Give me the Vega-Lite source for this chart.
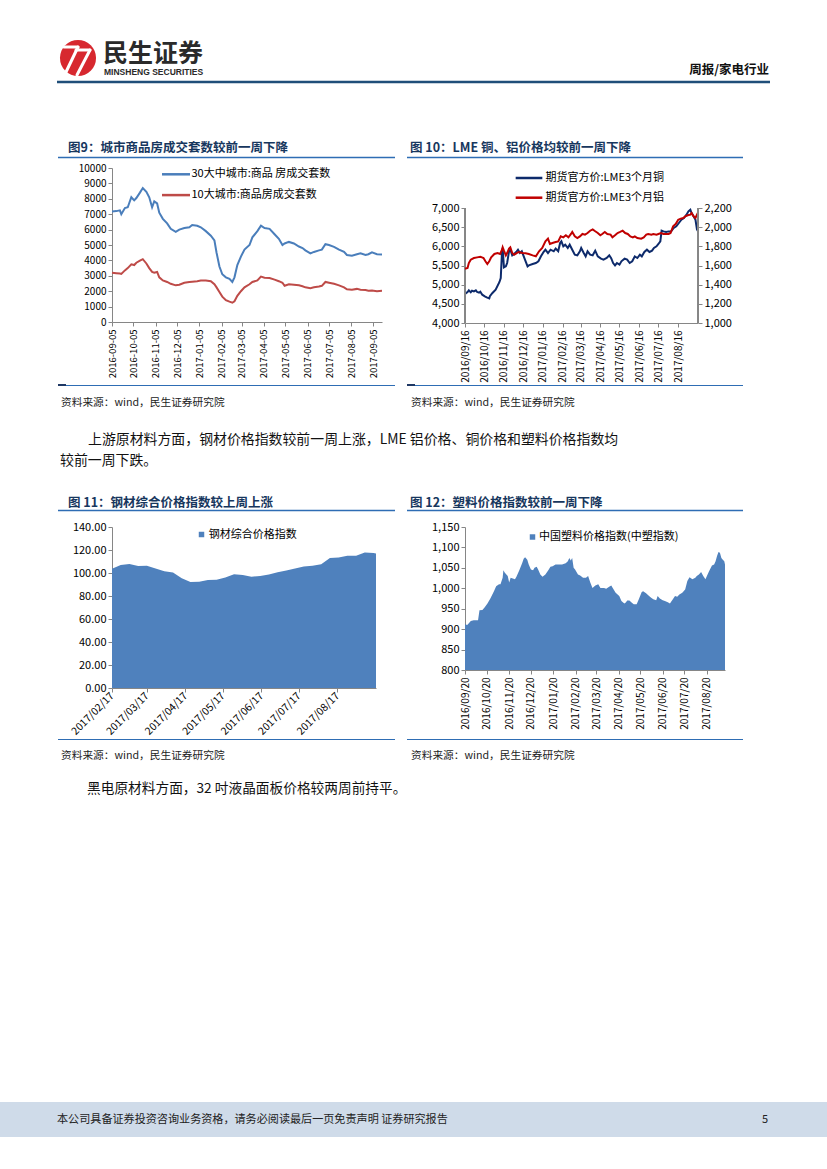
{
"$schema": "https://vega.github.io/schema/vega-lite/v6.json",
"padding": 0,
"background": "white",
"columns": 4,
"align": "each",
"bounds": "flush",
"spacing": {"row": 0, "column": 0},
"resolve": {"scale": {"color": "independent"}, "legend": {"color": "independent"}},
"config": {
  "view": {"stroke": null},
  "font": "Noto Sans CJK SC",
  "axis": {"grid": false, "title": null, "domainColor": "#868686", "tickColor": "#868686", "labelColor": "#000000", "labelFont": "Noto Sans CJK SC", "labelFontSize": 10, "tickSize": 4, "labelPadding": 2, "labelOverlap": false},
  "legend": {"labelFont": "Noto Sans CJK SC", "labelFontSize": 11, "labelColor": "#000000", "padding": 0},
  "text": {"font": "Noto Sans CJK SC"}
},
"datasets": {
  "h9": [
    {"d":"2016-09-05","a":7180,"b":3200},{"d":"2016-09-11","a":7200,"b":3170},{"d":"2016-09-16","a":7250,"b":3150},{"d":"2016-09-18","a":7000,"b":3120},
    {"d":"2016-09-23","a":7400,"b":3350},{"d":"2016-09-27","a":7450,"b":3500},{"d":"2016-10-02","a":8100,"b":3750},{"d":"2016-10-06","a":7900,"b":3700},
    {"d":"2016-10-09","a":8050,"b":3850},{"d":"2016-10-14","a":8400,"b":3980},{"d":"2016-10-18","a":8700,"b":4080},{"d":"2016-10-23","a":8450,"b":3800},
    {"d":"2016-10-27","a":8100,"b":3500},{"d":"2016-10-31","a":7450,"b":3250},{"d":"2016-11-03","a":7830,"b":3200},{"d":"2016-11-07","a":7700,"b":3250},
    {"d":"2016-11-10","a":7100,"b":2900},{"d":"2016-11-15","a":6700,"b":2700},{"d":"2016-11-21","a":6400,"b":2600},{"d":"2016-11-26","a":6050,"b":2480},
    {"d":"2016-12-03","a":5850,"b":2380},{"d":"2016-12-08","a":6000,"b":2420},{"d":"2016-12-15","a":6100,"b":2550},{"d":"2016-12-22","a":6150,"b":2600},
    {"d":"2016-12-26","a":6300,"b":2620},{"d":"2017-01-02","a":6250,"b":2650},{"d":"2017-01-07","a":6150,"b":2700},{"d":"2017-01-14","a":5900,"b":2700},
    {"d":"2017-01-21","a":5600,"b":2650},{"d":"2017-01-26","a":5300,"b":2450},{"d":"2017-01-29","a":4500,"b":2250},{"d":"2017-02-02","a":3600,"b":1950},
    {"d":"2017-02-06","a":3100,"b":1650},{"d":"2017-02-11","a":2900,"b":1420},{"d":"2017-02-16","a":2800,"b":1320},{"d":"2017-02-20","a":2600,"b":1250},
    {"d":"2017-02-23","a":2900,"b":1350},{"d":"2017-02-27","a":3700,"b":1700},{"d":"2017-03-04","a":4250,"b":2000},{"d":"2017-03-09","a":4700,"b":2250},
    {"d":"2017-03-16","a":5000,"b":2450},{"d":"2017-03-20","a":5500,"b":2600},{"d":"2017-03-27","a":5900,"b":2700},{"d":"2017-04-01","a":6250,"b":2950},
    {"d":"2017-04-06","a":6100,"b":2880},{"d":"2017-04-13","a":6050,"b":2850},{"d":"2017-04-20","a":5700,"b":2750},{"d":"2017-04-26","a":5400,"b":2650},
    {"d":"2017-05-01","a":5000,"b":2550},{"d":"2017-05-04","a":5100,"b":2350},{"d":"2017-05-10","a":5200,"b":2450},{"d":"2017-05-17","a":5100,"b":2420},
    {"d":"2017-05-24","a":4900,"b":2380},{"d":"2017-05-29","a":4800,"b":2320},{"d":"2017-06-02","a":4650,"b":2250},{"d":"2017-06-09","a":4450,"b":2200},
    {"d":"2017-06-14","a":4550,"b":2250},{"d":"2017-06-21","a":4650,"b":2300},{"d":"2017-06-25","a":4700,"b":2350},{"d":"2017-06-30","a":5050,"b":2600},
    {"d":"2017-07-05","a":5000,"b":2550},{"d":"2017-07-12","a":4880,"b":2480},{"d":"2017-07-19","a":4700,"b":2380},{"d":"2017-07-26","a":4550,"b":2250},
    {"d":"2017-07-30","a":4350,"b":2120},{"d":"2017-08-06","a":4300,"b":2100},{"d":"2017-08-13","a":4400,"b":2150},{"d":"2017-08-18","a":4460,"b":2100},
    {"d":"2017-08-25","a":4350,"b":2080},{"d":"2017-08-29","a":4400,"b":2030},{"d":"2017-09-03","a":4520,"b":2050},{"d":"2017-09-10","a":4400,"b":2000},
    {"d":"2017-09-17","a":4380,"b":2030}
  ],
  "cu": [
    {"d":"2016-09-16","v":4756},{"d":"2016-09-20","v":4809},{"d":"2016-09-22","v":4852},{"d":"2016-09-25","v":4800},{"d":"2016-09-27","v":4843},
    {"d":"2016-09-30","v":4826},{"d":"2016-10-03","v":4852},{"d":"2016-10-05","v":4809},{"d":"2016-10-08","v":4790},{"d":"2016-10-10","v":4817},
    {"d":"2016-10-13","v":4739},{"d":"2016-10-17","v":4696},{"d":"2016-10-20","v":4669},{"d":"2016-10-24","v":4643},{"d":"2016-10-25","v":4700},
    {"d":"2016-10-29","v":4783},{"d":"2016-11-03","v":4870},{"d":"2016-11-09","v":5070},{"d":"2016-11-11","v":5174},{"d":"2016-11-13","v":5870},
    {"d":"2016-11-14","v":5957},{"d":"2016-11-16","v":5452},{"d":"2016-11-19","v":5478},{"d":"2016-11-21","v":5565},{"d":"2016-11-24","v":5870},
    {"d":"2016-11-26","v":5913},{"d":"2016-11-29","v":5765},{"d":"2016-12-02","v":5800},{"d":"2016-12-06","v":5870},{"d":"2016-12-08","v":5913},
    {"d":"2016-12-11","v":5826},{"d":"2016-12-14","v":5870},{"d":"2016-12-17","v":5739},{"d":"2016-12-20","v":5609},{"d":"2016-12-23","v":5478},
    {"d":"2016-12-25","v":5504},{"d":"2016-12-31","v":5539},{"d":"2017-01-05","v":5565},{"d":"2017-01-09","v":5609},{"d":"2017-01-13","v":5739},
    {"d":"2017-01-17","v":5852},{"d":"2017-01-20","v":5913},{"d":"2017-01-24","v":5826},{"d":"2017-01-28","v":5913},{"d":"2017-02-02","v":5870},
    {"d":"2017-02-05","v":5939},{"d":"2017-02-09","v":5870},{"d":"2017-02-12","v":6087},{"d":"2017-02-14","v":6130},{"d":"2017-02-17","v":6000},
    {"d":"2017-02-20","v":6043},{"d":"2017-02-24","v":5957},{"d":"2017-02-27","v":6043},{"d":"2017-03-03","v":5913},{"d":"2017-03-07","v":5783},
    {"d":"2017-03-11","v":5765},{"d":"2017-03-15","v":5870},{"d":"2017-03-17","v":5957},{"d":"2017-03-21","v":5826},{"d":"2017-03-24","v":5739},
    {"d":"2017-03-27","v":5870},{"d":"2017-03-31","v":5783},{"d":"2017-04-04","v":5765},{"d":"2017-04-08","v":5887},{"d":"2017-04-12","v":5739},
    {"d":"2017-04-17","v":5678},{"d":"2017-04-21","v":5652},{"d":"2017-04-26","v":5696},{"d":"2017-04-30","v":5765},{"d":"2017-05-03","v":5690},
    {"d":"2017-05-06","v":5565},{"d":"2017-05-09","v":5504},{"d":"2017-05-12","v":5565},{"d":"2017-05-16","v":5522},{"d":"2017-05-19","v":5609},
    {"d":"2017-05-24","v":5678},{"d":"2017-05-28","v":5652},{"d":"2017-06-01","v":5565},{"d":"2017-06-05","v":5609},{"d":"2017-06-09","v":5739},
    {"d":"2017-06-13","v":5696},{"d":"2017-06-17","v":5783},{"d":"2017-06-20","v":5739},{"d":"2017-06-24","v":5852},{"d":"2017-06-28","v":5913},
    {"d":"2017-07-02","v":5852},{"d":"2017-07-06","v":5887},{"d":"2017-07-09","v":5957},{"d":"2017-07-13","v":6000},{"d":"2017-07-16","v":6061},
    {"d":"2017-07-19","v":6130},{"d":"2017-07-21","v":6409},{"d":"2017-07-24","v":6391},{"d":"2017-07-28","v":6374},{"d":"2017-08-01","v":6390},
    {"d":"2017-08-05","v":6391},{"d":"2017-08-09","v":6478},{"d":"2017-08-13","v":6522},{"d":"2017-08-17","v":6609},{"d":"2017-08-21","v":6696},
    {"d":"2017-08-25","v":6739},{"d":"2017-08-29","v":6826},{"d":"2017-09-01","v":6913},{"d":"2017-09-04","v":6957},{"d":"2017-09-06","v":6870},
    {"d":"2017-09-09","v":6783},{"d":"2017-09-12","v":6696},{"d":"2017-09-14","v":6480},{"d":"2017-09-15","v":6520}
  ],
  "al": [
    {"d":"2016-09-16","v":1567},{"d":"2016-09-20","v":1574},{"d":"2016-09-22","v":1626},{"d":"2016-09-25","v":1661},{"d":"2016-09-30","v":1678},
    {"d":"2016-10-05","v":1685},{"d":"2016-10-10","v":1692},{"d":"2016-10-15","v":1678},{"d":"2016-10-18","v":1644},{"d":"2016-10-21","v":1616},
    {"d":"2016-10-24","v":1644},{"d":"2016-10-27","v":1685},{"d":"2016-11-01","v":1720},{"d":"2016-11-06","v":1730},{"d":"2016-11-10","v":1720},
    {"d":"2016-11-13","v":1765},{"d":"2016-11-14","v":1790},{"d":"2016-11-16","v":1755},{"d":"2016-11-19","v":1706},{"d":"2016-11-21","v":1730},
    {"d":"2016-11-24","v":1776},{"d":"2016-11-26","v":1790},{"d":"2016-11-29","v":1730},{"d":"2016-12-02","v":1713},{"d":"2016-12-06","v":1730},
    {"d":"2016-12-09","v":1741},{"d":"2016-12-15","v":1730},{"d":"2016-12-20","v":1727},{"d":"2016-12-25","v":1720},{"d":"2016-12-31","v":1706},
    {"d":"2017-01-05","v":1696},{"d":"2017-01-10","v":1748},{"d":"2017-01-15","v":1783},{"d":"2017-01-20","v":1852},{"d":"2017-01-24","v":1880},
    {"d":"2017-01-27","v":1824},{"d":"2017-01-31","v":1835},{"d":"2017-02-05","v":1845},{"d":"2017-02-09","v":1852},{"d":"2017-02-13","v":1904},
    {"d":"2017-02-17","v":1894},{"d":"2017-02-21","v":1915},{"d":"2017-02-25","v":1894},{"d":"2017-03-01","v":1929},{"d":"2017-03-03","v":1950},
    {"d":"2017-03-07","v":1904},{"d":"2017-03-11","v":1887},{"d":"2017-03-15","v":1904},{"d":"2017-03-19","v":1929},{"d":"2017-03-23","v":1922},
    {"d":"2017-03-27","v":1939},{"d":"2017-03-31","v":1963},{"d":"2017-04-04","v":1977},{"d":"2017-04-08","v":1957},{"d":"2017-04-12","v":1939},
    {"d":"2017-04-16","v":1915},{"d":"2017-04-19","v":1929},{"d":"2017-04-23","v":1950},{"d":"2017-04-27","v":1929},{"d":"2017-05-02","v":1922},
    {"d":"2017-05-05","v":1894},{"d":"2017-05-09","v":1915},{"d":"2017-05-13","v":1939},{"d":"2017-05-17","v":1950},{"d":"2017-05-21","v":1963},
    {"d":"2017-05-25","v":1939},{"d":"2017-05-29","v":1929},{"d":"2017-06-02","v":1904},{"d":"2017-06-06","v":1894},{"d":"2017-06-09","v":1904},
    {"d":"2017-06-13","v":1887},{"d":"2017-06-19","v":1880},{"d":"2017-06-23","v":1894},{"d":"2017-06-27","v":1922},{"d":"2017-06-30","v":1929},
    {"d":"2017-07-05","v":1922},{"d":"2017-07-08","v":1929},{"d":"2017-07-13","v":1922},{"d":"2017-07-16","v":1929},{"d":"2017-07-20","v":1939},
    {"d":"2017-07-24","v":1929},{"d":"2017-07-28","v":1929},{"d":"2017-08-01","v":1929},{"d":"2017-08-04","v":1939},{"d":"2017-08-08","v":2009},
    {"d":"2017-08-12","v":2033},{"d":"2017-08-16","v":2078},{"d":"2017-08-20","v":2089},{"d":"2017-08-24","v":2096},{"d":"2017-08-27","v":2113},
    {"d":"2017-08-31","v":2124},{"d":"2017-09-04","v":2130},{"d":"2017-09-06","v":2148},{"d":"2017-09-09","v":2113},{"d":"2017-09-12","v":2096},
    {"d":"2017-09-14","v":2124},{"d":"2017-09-15","v":2103}
  ],
  "st": [
    {"d":"2017-02-17","v":103.7},{"d":"2017-02-24","v":107},{"d":"2017-03-03","v":107.8},{"d":"2017-03-10","v":106},{"d":"2017-03-17","v":106.3},
    {"d":"2017-03-24","v":104},{"d":"2017-03-31","v":101.5},{"d":"2017-04-07","v":100.5},{"d":"2017-04-14","v":95.5},{"d":"2017-04-21","v":92.2},
    {"d":"2017-04-28","v":92.3},{"d":"2017-05-05","v":94},{"d":"2017-05-12","v":94.2},{"d":"2017-05-19","v":96},{"d":"2017-05-26","v":99},
    {"d":"2017-06-02","v":98.2},{"d":"2017-06-09","v":96.8},{"d":"2017-06-16","v":97.5},{"d":"2017-06-23","v":98.8},{"d":"2017-06-30","v":100.6},
    {"d":"2017-07-07","v":102.2},{"d":"2017-07-14","v":104},{"d":"2017-07-21","v":105.6},{"d":"2017-07-28","v":106.2},{"d":"2017-08-04","v":107.6},
    {"d":"2017-08-11","v":113},{"d":"2017-08-18","v":113.4},{"d":"2017-08-25","v":115},{"d":"2017-09-01","v":115},{"d":"2017-09-08","v":117.9},
    {"d":"2017-09-15","v":117.5},{"d":"2017-09-17","v":117}
  ],
  "pl": [
    {"d":"2016-09-20","v":912},{"d":"2016-09-23","v":910},{"d":"2016-09-25","v":914},{"d":"2016-09-28","v":920},{"d":"2016-10-02","v":922},
    {"d":"2016-10-07","v":922},{"d":"2016-10-08","v":922},{"d":"2016-10-10","v":946},{"d":"2016-10-14","v":947},{"d":"2016-10-17","v":953},
    {"d":"2016-10-21","v":963},{"d":"2016-10-25","v":975},{"d":"2016-10-30","v":993},{"d":"2016-11-02","v":1005},{"d":"2016-11-06","v":1010},
    {"d":"2016-11-08","v":1010},{"d":"2016-11-11","v":1026},{"d":"2016-11-12","v":1044},{"d":"2016-11-14","v":1038},{"d":"2016-11-18","v":1030},
    {"d":"2016-11-20","v":1014},{"d":"2016-11-22","v":1026},{"d":"2016-11-25","v":1024},{"d":"2016-11-28","v":1022},{"d":"2016-11-30","v":1028},
    {"d":"2016-12-04","v":1044},{"d":"2016-12-08","v":1062},{"d":"2016-12-10","v":1072},{"d":"2016-12-12","v":1076},{"d":"2016-12-15","v":1070},
    {"d":"2016-12-17","v":1058},{"d":"2016-12-20","v":1046},{"d":"2016-12-23","v":1044},{"d":"2016-12-25","v":1050},{"d":"2016-12-28","v":1053},
    {"d":"2016-12-30","v":1046},{"d":"2017-01-02","v":1034},{"d":"2017-01-05","v":1028},{"d":"2017-01-09","v":1034},{"d":"2017-01-13","v":1044},
    {"d":"2017-01-16","v":1053},{"d":"2017-01-19","v":1054},{"d":"2017-01-23","v":1058},{"d":"2017-01-27","v":1058},{"d":"2017-02-01","v":1058},
    {"d":"2017-02-06","v":1061},{"d":"2017-02-09","v":1066},{"d":"2017-02-11","v":1074},{"d":"2017-02-13","v":1068},{"d":"2017-02-15","v":1074},
    {"d":"2017-02-17","v":1050},{"d":"2017-02-19","v":1046},{"d":"2017-02-23","v":1034},{"d":"2017-02-26","v":1031},{"d":"2017-03-02","v":1026},
    {"d":"2017-03-06","v":1026},{"d":"2017-03-09","v":1030},{"d":"2017-03-12","v":1014},{"d":"2017-03-15","v":1001},{"d":"2017-03-19","v":1007},
    {"d":"2017-03-23","v":1010},{"d":"2017-03-26","v":1001},{"d":"2017-03-31","v":1001},{"d":"2017-04-03","v":999},{"d":"2017-04-07","v":1004},
    {"d":"2017-04-10","v":1007},{"d":"2017-04-12","v":1001},{"d":"2017-04-16","v":989},{"d":"2017-04-21","v":981},{"d":"2017-04-24","v":969},
    {"d":"2017-04-28","v":963},{"d":"2017-04-30","v":965},{"d":"2017-05-02","v":970},{"d":"2017-05-05","v":970},{"d":"2017-05-08","v":965},
    {"d":"2017-05-11","v":961},{"d":"2017-05-15","v":961},{"d":"2017-05-18","v":973},{"d":"2017-05-22","v":991},{"d":"2017-05-24","v":993},
    {"d":"2017-05-28","v":988},{"d":"2017-05-31","v":983},{"d":"2017-06-04","v":977},{"d":"2017-06-07","v":973},{"d":"2017-06-11","v":971},
    {"d":"2017-06-13","v":981},{"d":"2017-06-16","v":975},{"d":"2017-06-20","v":971},{"d":"2017-06-23","v":969},{"d":"2017-06-27","v":966},
    {"d":"2017-06-30","v":963},{"d":"2017-07-04","v":973},{"d":"2017-07-07","v":981},{"d":"2017-07-10","v":979},{"d":"2017-07-13","v":985},
    {"d":"2017-07-17","v":989},{"d":"2017-07-21","v":997},{"d":"2017-07-24","v":1018},{"d":"2017-07-27","v":1027},{"d":"2017-07-31","v":1022},
    {"d":"2017-08-04","v":1026},{"d":"2017-08-06","v":1030},{"d":"2017-08-09","v":1034},{"d":"2017-08-12","v":1040},{"d":"2017-08-15","v":1030},
    {"d":"2017-08-18","v":1022},{"d":"2017-08-20","v":1030},{"d":"2017-08-23","v":1042},{"d":"2017-08-27","v":1056},{"d":"2017-08-30","v":1058},
    {"d":"2017-09-01","v":1066},{"d":"2017-09-03","v":1079},{"d":"2017-09-05","v":1089},{"d":"2017-09-07","v":1087},{"d":"2017-09-09","v":1074},
    {"d":"2017-09-11","v":1070},{"d":"2017-09-13","v":1066},{"d":"2017-09-14","v":1058}
  ]
},
"concat": [
  {
    "width": 112, "height": 168,
    "view": {"fill": "white", "stroke": null},
    "layer": [
      {"data": {"values": [{"t": ""}]}, "mark": {"type": "point", "shape": "circle", "filled": true, "color": "#d7282f", "opacity": 1, "size": 1300}, "encoding": {"x": {"value": 78}, "y": {"value": 58}}},
      {"data": {"values": [{"t": ""}]}, "mark": {"type": "rule", "color": "white", "strokeWidth": 3, "strokeCap": "round"}, "encoding": {"x": {"value": 64}, "y": {"value": 47}, "x2": {"value": 78}, "y2": {"value": 47}}},
      {"data": {"values": [{"t": ""}]}, "mark": {"type": "rule", "color": "white", "strokeWidth": 3, "strokeCap": "round"}, "encoding": {"x": {"value": 78}, "y": {"value": 47}, "x2": {"value": 66}, "y2": {"value": 72}}},
      {"data": {"values": [{"t": ""}]}, "mark": {"type": "rule", "color": "white", "strokeWidth": 3, "strokeCap": "round"}, "encoding": {"x": {"value": 76}, "y": {"value": 50}, "x2": {"value": 90}, "y2": {"value": 50}}},
      {"data": {"values": [{"t": ""}]}, "mark": {"type": "rule", "color": "white", "strokeWidth": 3, "strokeCap": "round"}, "encoding": {"x": {"value": 90}, "y": {"value": 50}, "x2": {"value": 77}, "y2": {"value": 75}}},
      {"data": {"values": [{"t": "民生证券"}]}, "mark": {"type": "text", "fontSize": 25, "fontWeight": "bold", "color": "#2a2a2a", "align": "left", "baseline": "middle"}, "encoding": {"x": {"value": 103}, "y": {"value": 54}, "text": {"field": "t"}}},
      {"data": {"values": [{"t": "MINSHENG SECURITIES"}]}, "mark": {"type": "text", "font": "Liberation Sans", "fontSize": 8.5, "fontWeight": "bold", "color": "#2a2a2a", "align": "left", "baseline": "middle"}, "encoding": {"x": {"value": 104}, "y": {"value": 72}, "text": {"field": "t"}}},
      {"data": {"values": [{"t": "周报/家电行业"}]}, "mark": {"type": "text", "fontSize": 12.5, "fontWeight": "bold", "color": "#111111", "align": "right", "baseline": "middle"}, "encoding": {"x": {"value": 769}, "y": {"value": 70}, "text": {"field": "t"}}},
      {"data": {"values": [{"t": ""}]}, "mark": {"type": "rule", "color": "#1f4e79", "strokeWidth": 2.5}, "encoding": {"x": {"value": 57}, "x2": {"value": 770}, "y": {"value": 82}}},
      {"data": {"values": [{"t": "图9：城市商品房成交套数较前一周下降"}]}, "mark": {"type": "text", "fontSize": 12.5, "fontWeight": "bold", "color": "#17375e", "align": "left", "baseline": "middle"}, "encoding": {"x": {"value": 68}, "y": {"value": 148}, "text": {"field": "t"}}},
      {"data": {"values": [{"t": "图 10：LME 铜、铝价格均较前一周下降"}]}, "mark": {"type": "text", "fontSize": 12.5, "fontWeight": "bold", "color": "#17375e", "align": "left", "baseline": "middle"}, "encoding": {"x": {"value": 410}, "y": {"value": 148}, "text": {"field": "t"}}},
      {"data": {"values": [{"t": ""}]}, "mark": {"type": "rule", "color": "#2e6db4", "strokeWidth": 1.5}, "encoding": {"x": {"value": 58}, "x2": {"value": 395}, "y": {"value": 157.5}}},
      {"data": {"values": [{"t": ""}]}, "mark": {"type": "rule", "color": "#2e6db4", "strokeWidth": 1.5}, "encoding": {"x": {"value": 407}, "x2": {"value": 743}, "y": {"value": 157.5}}}
    ]
  },
  {"width": 0, "height": 0, "data": {"values": [{"t": ""}]}, "mark": {"type": "text", "opacity": 0}, "encoding": {"text": {"field": "t"}}},
  {"width": 0, "height": 0, "data": {"values": [{"t": ""}]}, "mark": {"type": "text", "opacity": 0}, "encoding": {"text": {"field": "t"}}},
  {"width": 0, "height": 0, "data": {"values": [{"t": ""}]}, "mark": {"type": "text", "opacity": 0}, "encoding": {"text": {"field": "t"}}},

  {"width": 112, "height": 0, "data": {"values": [{"t": ""}]}, "mark": {"type": "text", "opacity": 0}, "encoding": {"text": {"field": "t"}}},
  {
    "width": 270, "height": 154,
    "data": {"name": "h9"},
    "transform": [{"fold": ["a", "b"], "as": ["k", "v"]}],
    "mark": {"type": "line", "strokeWidth": 2},
    "encoding": {
      "x": {"field": "d", "type": "temporal",
        "scale": {"type": "utc", "domain": [{"year": 2016, "month": 9, "date": 5, "utc": true}, {"year": 2017, "month": 9, "date": 17, "utc": true}]},
        "axis": {"labelExpr": "utcFormat(datum.value, '%Y-%m-%d')", "labelAngle": -90, "labelFontSize": 9.5, "labelPadding": 3, "labelOverlap": false, "tickCount": 13,
          "values": [{"year": 2016, "month": 9, "date": 5, "utc": true}, {"year": 2016, "month": 10, "date": 5, "utc": true}, {"year": 2016, "month": 11, "date": 5, "utc": true}, {"year": 2016, "month": 12, "date": 5, "utc": true}, {"year": 2017, "month": 1, "date": 5, "utc": true}, {"year": 2017, "month": 2, "date": 5, "utc": true}, {"year": 2017, "month": 3, "date": 5, "utc": true}, {"year": 2017, "month": 4, "date": 5, "utc": true}, {"year": 2017, "month": 5, "date": 5, "utc": true}, {"year": 2017, "month": 6, "date": 5, "utc": true}, {"year": 2017, "month": 7, "date": 5, "utc": true}, {"year": 2017, "month": 8, "date": 5, "utc": true}, {"year": 2017, "month": 9, "date": 5, "utc": true}]}},
      "y": {"field": "v", "type": "quantitative", "scale": {"domain": [0, 10000], "nice": false},
        "axis": {"values": [0, 1000, 2000, 3000, 4000, 5000, 6000, 7000, 8000, 9000, 10000], "format": ".0f", "labelFontSize": 10, "labelOverlap": false, "tickCount": 11}},
      "color": {"field": "k", "type": "nominal", "scale": {"domain": ["a", "b"], "range": ["#4a7ebb", "#be4b48"]},
        "legend": {"title": null, "orient": "none", "legendX": 58, "legendY": 0.3, "symbolType": "M-3,0H3", "symbolSize": 87, "symbolStrokeWidth": 2.5, "labelOffset": 9.5, "rowPadding": 9.8, "labelFontSize": 11,
          "labelExpr": "datum.value == 'a' ? '30大中城市:商品 房成交套数' : '10大城市:商品房成交套数'"}}
    }
  },
  {"width": 83, "height": 0, "data": {"values": [{"t": ""}]}, "mark": {"type": "text", "opacity": 0}, "encoding": {"text": {"field": "t"}}},
  {
    "width": 233, "height": 155,
    "layer": [
      {
        "data": {"name": "cu"},
        "layer": [
          {"mark": {"type": "line", "strokeWidth": 2},
           "encoding": {
             "x": {"field": "d", "type": "temporal",
               "scale": {"type": "utc", "domain": [{"year": 2016, "month": 9, "date": 16, "utc": true}, {"year": 2017, "month": 9, "date": 16, "utc": true}]},
               "axis": {"labelExpr": "utcFormat(datum.value, '%Y/%m/%d')", "labelAngle": -90, "labelFontSize": 10, "labelPadding": 3, "labelOverlap": false, "tickCount": 12,
                 "values": [{"year": 2016, "month": 9, "date": 16, "utc": true}, {"year": 2016, "month": 10, "date": 16, "utc": true}, {"year": 2016, "month": 11, "date": 16, "utc": true}, {"year": 2016, "month": 12, "date": 16, "utc": true}, {"year": 2017, "month": 1, "date": 16, "utc": true}, {"year": 2017, "month": 2, "date": 16, "utc": true}, {"year": 2017, "month": 3, "date": 16, "utc": true}, {"year": 2017, "month": 4, "date": 16, "utc": true}, {"year": 2017, "month": 5, "date": 16, "utc": true}, {"year": 2017, "month": 6, "date": 16, "utc": true}, {"year": 2017, "month": 7, "date": 16, "utc": true}, {"year": 2017, "month": 8, "date": 16, "utc": true}]}},
             "y": {"field": "v", "type": "quantitative", "scale": {"domain": [4000, 8043.5], "nice": false, "zero": false},
               "axis": {"orient": "left", "domain": false, "values": [4000, 4500, 5000, 5500, 6000, 6500, 7000], "format": ",.0f", "labelFontSize": 11, "labelOverlap": false, "tickCount": 7}},
             "color": {"datum": "期货官方价:LME3个月铜", "type": "nominal", "scale": {"domain": ["期货官方价:LME3个月铜", "期货官方价:LME3个月铝"], "range": ["#0d2a6b", "#c00000"]},
               "legend": {"title": null, "orient": "none", "legendX": 58, "legendY": 4, "symbolType": "M-3,0H3", "symbolSize": 79, "symbolStrokeWidth": 2.5, "labelOffset": 10.5, "rowPadding": 8.7, "labelFontSize": 11}}
           }},
          {"mark": {"type": "rule", "color": "#868686", "strokeWidth": 1},
           "encoding": {
             "x": {"datum": {"year": 2016, "month": 9, "date": 16, "utc": true}, "type": "temporal"},
             "y": {"datum": 4000, "type": "quantitative"},
             "y2": {"datum": 7000}
           }}
        ]
      },
      {
        "data": {"name": "al"},
        "layer": [
          {"mark": {"type": "line", "strokeWidth": 2},
           "encoding": {
             "x": {"field": "d", "type": "temporal"},
             "y": {"field": "v", "type": "quantitative", "scale": {"domain": [1000, 2617.4], "nice": false, "zero": false},
               "axis": {"orient": "right", "domain": false, "values": [1000, 1200, 1400, 1600, 1800, 2000, 2200], "format": ",.0f", "labelFontSize": 11, "labelOverlap": false, "tickCount": 7}},
             "color": {"datum": "期货官方价:LME3个月铝", "type": "nominal"}
           }},
          {"mark": {"type": "rule", "color": "#868686", "strokeWidth": 1},
           "encoding": {
             "x": {"datum": {"year": 2017, "month": 9, "date": 16, "utc": true}, "type": "temporal"},
             "y": {"datum": 1000, "type": "quantitative"},
             "y2": {"datum": 2200}
           }}
        ]
      }
    ],
    "resolve": {"scale": {"y": "independent"}}
  },

  {
    "width": 112, "height": 204,
    "layer": [
      {"data": {"values": [{"t": ""}]}, "mark": {"type": "rule", "color": "#2e6db4", "strokeWidth": 1}, "encoding": {"x": {"value": 58}, "x2": {"value": 395}, "y": {"value": 62.5}}},
      {"data": {"values": [{"t": ""}]}, "mark": {"type": "rule", "color": "#1f3864", "strokeWidth": 2}, "encoding": {"x": {"value": 58}, "x2": {"value": 66}, "y": {"value": 62}}},
      {"data": {"values": [{"t": ""}]}, "mark": {"type": "rule", "color": "#2e6db4", "strokeWidth": 1}, "encoding": {"x": {"value": 407}, "x2": {"value": 743}, "y": {"value": 62.5}}},
      {"data": {"values": [{"t": ""}]}, "mark": {"type": "rule", "color": "#1f3864", "strokeWidth": 2}, "encoding": {"x": {"value": 407}, "x2": {"value": 415}, "y": {"value": 62}}},
      {"data": {"values": [{"t": "资料来源：wind，民生证券研究院"}]}, "mark": {"type": "text", "fontSize": 10.7, "color": "#222222", "align": "left", "baseline": "middle"}, "encoding": {"x": {"value": 61}, "y": {"value": 80}, "text": {"field": "t"}}},
      {"data": {"values": [{"t": "资料来源：wind，民生证券研究院"}]}, "mark": {"type": "text", "fontSize": 10.7, "color": "#222222", "align": "left", "baseline": "middle"}, "encoding": {"x": {"value": 411}, "y": {"value": 80}, "text": {"field": "t"}}},
      {"data": {"values": [{"t": "上游原材料方面，钢材价格指数较前一周上涨，LME 铝价格、铜价格和塑料价格指数均"}]}, "mark": {"type": "text", "fontSize": 13.9, "color": "#111111", "align": "left", "baseline": "middle"}, "encoding": {"x": {"value": 88}, "y": {"value": 117}, "text": {"field": "t"}}},
      {"data": {"values": [{"t": "较前一周下跌。"}]}, "mark": {"type": "text", "fontSize": 13.9, "color": "#111111", "align": "left", "baseline": "middle"}, "encoding": {"x": {"value": 60}, "y": {"value": 138}, "text": {"field": "t"}}},
      {"data": {"values": [{"t": "图 11：钢材综合价格指数较上周上涨"}]}, "mark": {"type": "text", "fontSize": 12.5, "fontWeight": "bold", "color": "#17375e", "align": "left", "baseline": "middle"}, "encoding": {"x": {"value": 68}, "y": {"value": 179.5}, "text": {"field": "t"}}},
      {"data": {"values": [{"t": "图 12：塑料价格指数较前一周下降"}]}, "mark": {"type": "text", "fontSize": 12.5, "fontWeight": "bold", "color": "#17375e", "align": "left", "baseline": "middle"}, "encoding": {"x": {"value": 410}, "y": {"value": 179.5}, "text": {"field": "t"}}},
      {"data": {"values": [{"t": ""}]}, "mark": {"type": "rule", "color": "#2e6db4", "strokeWidth": 1.5}, "encoding": {"x": {"value": 58}, "x2": {"value": 395}, "y": {"value": 187.5}}},
      {"data": {"values": [{"t": ""}]}, "mark": {"type": "rule", "color": "#2e6db4", "strokeWidth": 1.5}, "encoding": {"x": {"value": 407}, "x2": {"value": 743}, "y": {"value": 187.5}}}
    ]
  },
  {"width": 0, "height": 0, "data": {"values": [{"t": ""}]}, "mark": {"type": "text", "opacity": 0}, "encoding": {"text": {"field": "t"}}},
  {"width": 0, "height": 0, "data": {"values": [{"t": ""}]}, "mark": {"type": "text", "opacity": 0}, "encoding": {"text": {"field": "t"}}},
  {"width": 0, "height": 0, "data": {"values": [{"t": ""}]}, "mark": {"type": "text", "opacity": 0}, "encoding": {"text": {"field": "t"}}},

  {"width": 112, "height": 0, "data": {"values": [{"t": ""}]}, "mark": {"type": "text", "opacity": 0}, "encoding": {"text": {"field": "t"}}},
  {
    "width": 264, "height": 161,
    "data": {"name": "st"},
    "mark": {"type": "area"},
    "encoding": {
      "x": {"field": "d", "type": "temporal",
        "scale": {"type": "utc", "domain": [{"year": 2017, "month": 2, "date": 17, "utc": true}, {"year": 2017, "month": 9, "date": 17, "utc": true}]},
        "axis": {"labelExpr": "utcFormat(datum.value, '%Y/%m/%d')", "labelAngle": -45, "labelAlign": "right", "labelBaseline": "middle", "labelFontSize": 10.5, "labelPadding": 2, "labelOverlap": false, "tickCount": 7,
          "values": [{"year": 2017, "month": 2, "date": 17, "utc": true}, {"year": 2017, "month": 3, "date": 17, "utc": true}, {"year": 2017, "month": 4, "date": 17, "utc": true}, {"year": 2017, "month": 5, "date": 17, "utc": true}, {"year": 2017, "month": 6, "date": 17, "utc": true}, {"year": 2017, "month": 7, "date": 17, "utc": true}, {"year": 2017, "month": 8, "date": 17, "utc": true}]}},
      "y": {"field": "v", "type": "quantitative", "scale": {"domain": [0, 140], "nice": false},
        "axis": {"values": [0, 20, 40, 60, 80, 100, 120, 140], "format": ".2f", "labelFontSize": 11, "labelOverlap": false, "tickCount": 8}},
      "color": {"datum": "钢材综合价格指数", "type": "nominal", "scale": {"range": ["#4f81bd"]},
        "legend": {"title": null, "orient": "none", "legendX": 84, "legendY": 2, "symbolType": "square", "symbolSize": 30, "labelOffset": 1.7, "labelFontSize": 11}}
    }
  },
  {"width": 83, "height": 0, "data": {"values": [{"t": ""}]}, "mark": {"type": "text", "opacity": 0}, "encoding": {"text": {"field": "t"}}},
  {
    "width": 260, "height": 143,
    "data": {"name": "pl"},
    "mark": {"type": "area"},
    "encoding": {
      "x": {"field": "d", "type": "temporal",
        "scale": {"type": "utc", "domain": [{"year": 2016, "month": 9, "date": 20, "utc": true}, {"year": 2017, "month": 9, "date": 14, "utc": true}]},
        "axis": {"labelExpr": "utcFormat(datum.value, '%Y/%m/%d')", "labelAngle": -90, "labelFontSize": 10, "labelPadding": 3, "labelOverlap": false, "tickCount": 12,
          "values": [{"year": 2016, "month": 9, "date": 20, "utc": true}, {"year": 2016, "month": 10, "date": 20, "utc": true}, {"year": 2016, "month": 11, "date": 20, "utc": true}, {"year": 2016, "month": 12, "date": 20, "utc": true}, {"year": 2017, "month": 1, "date": 20, "utc": true}, {"year": 2017, "month": 2, "date": 20, "utc": true}, {"year": 2017, "month": 3, "date": 20, "utc": true}, {"year": 2017, "month": 4, "date": 20, "utc": true}, {"year": 2017, "month": 5, "date": 20, "utc": true}, {"year": 2017, "month": 6, "date": 20, "utc": true}, {"year": 2017, "month": 7, "date": 20, "utc": true}, {"year": 2017, "month": 8, "date": 20, "utc": true}]}},
      "y": {"field": "v", "type": "quantitative", "scale": {"domain": [800, 1150], "nice": false, "zero": false},
        "axis": {"values": [800, 850, 900, 950, 1000, 1050, 1100, 1150], "format": ",.0f", "labelFontSize": 11, "labelOverlap": false, "tickCount": 8}},
      "y2": {"datum": 800},
      "color": {"datum": "中国塑料价格指数(中塑指数)", "type": "nominal", "scale": {"range": ["#4f81bd"]},
        "legend": {"title": null, "orient": "none", "legendX": 62, "legendY": 4.5, "symbolType": "square", "symbolSize": 30, "labelOffset": 1, "labelFontSize": 11}}
    }
  },

  {
    "width": 112, "height": 481,
    "layer": [
      {"data": {"values": [{"t": ""}]}, "mark": {"type": "rule", "color": "#2e6db4", "strokeWidth": 1}, "encoding": {"x": {"value": 58}, "x2": {"value": 395}, "y": {"value": 51.5}}},
      {"data": {"values": [{"t": ""}]}, "mark": {"type": "rule", "color": "#2e6db4", "strokeWidth": 1}, "encoding": {"x": {"value": 407}, "x2": {"value": 743}, "y": {"value": 51.5}}},
      {"data": {"values": [{"t": "资料来源：wind，民生证券研究院"}]}, "mark": {"type": "text", "fontSize": 10.7, "color": "#222222", "align": "left", "baseline": "middle"}, "encoding": {"x": {"value": 61}, "y": {"value": 68}, "text": {"field": "t"}}},
      {"data": {"values": [{"t": "资料来源：wind，民生证券研究院"}]}, "mark": {"type": "text", "fontSize": 10.7, "color": "#222222", "align": "left", "baseline": "middle"}, "encoding": {"x": {"value": 411}, "y": {"value": 68}, "text": {"field": "t"}}},
      {"data": {"values": [{"t": "黑电原材料方面，32 吋液晶面板价格较两周前持平。"}]}, "mark": {"type": "text", "fontSize": 13.7, "color": "#111111", "align": "left", "baseline": "middle"}, "encoding": {"x": {"value": 87}, "y": {"value": 101}, "text": {"field": "t"}}},
      {"data": {"values": [{"t": ""}]}, "mark": {"type": "rect", "color": "#cfdbe9"}, "encoding": {"x": {"value": 0}, "x2": {"value": 827}, "y": {"value": 414}, "y2": {"value": 449}}},
      {"data": {"values": [{"t": "本公司具备证券投资咨询业务资格，请务必阅读最后一页免责声明 证券研究报告"}]}, "mark": {"type": "text", "fontSize": 11.1, "color": "#222222", "align": "left", "baseline": "middle"}, "encoding": {"x": {"value": 57}, "y": {"value": 432}, "text": {"field": "t"}}},
      {"data": {"values": [{"t": "5"}]}, "mark": {"type": "text", "fontSize": 11, "color": "#222222", "align": "center", "baseline": "middle"}, "encoding": {"x": {"value": 765}, "y": {"value": 432}, "text": {"field": "t"}}}
    ]
  },
  {"width": 0, "height": 0, "data": {"values": [{"t": ""}]}, "mark": {"type": "text", "opacity": 0}, "encoding": {"text": {"field": "t"}}},
  {"width": 0, "height": 0, "data": {"values": [{"t": ""}]}, "mark": {"type": "text", "opacity": 0}, "encoding": {"text": {"field": "t"}}},
  {"width": 0, "height": 0, "data": {"values": [{"t": ""}]}, "mark": {"type": "text", "opacity": 0}, "encoding": {"text": {"field": "t"}}}
]
}
